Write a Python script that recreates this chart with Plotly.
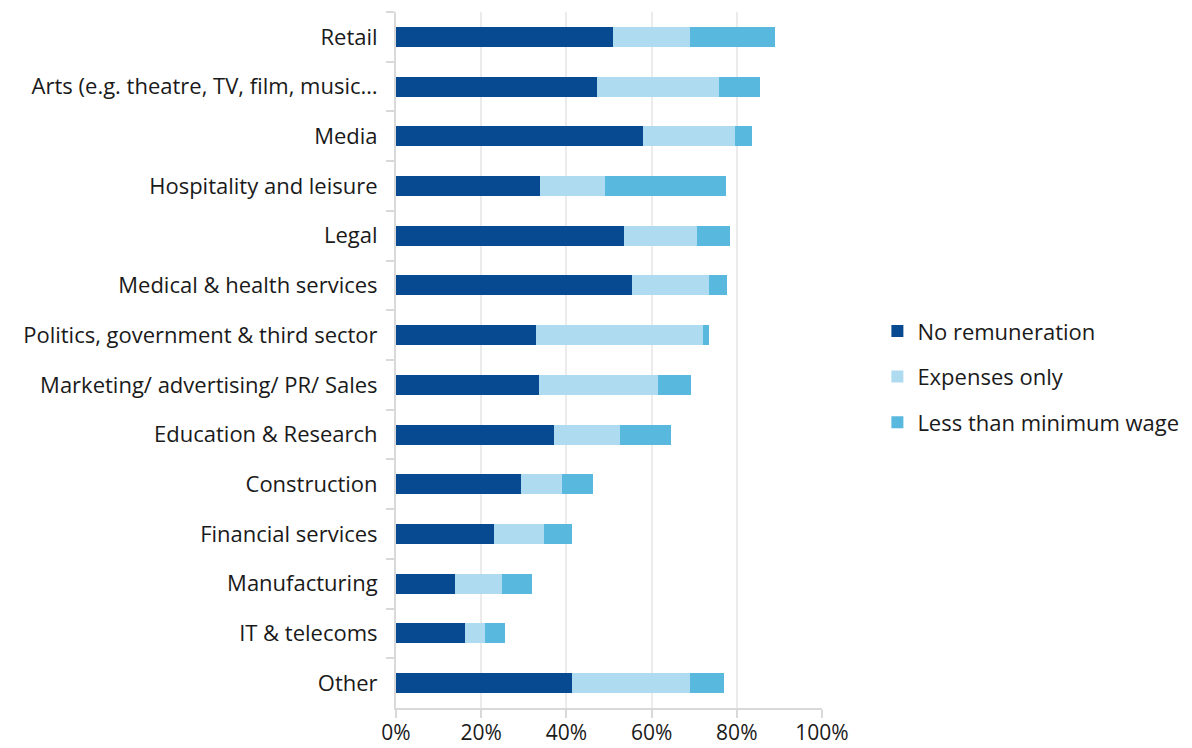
import plotly.graph_objects as go

categories = [
    "Retail",
    "Arts (e.g. theatre, TV, film, music…",
    "Media",
    "Hospitality and leisure",
    "Legal",
    "Medical & health services",
    "Politics, government & third sector",
    "Marketing/ advertising/ PR/ Sales",
    "Education & Research",
    "Construction",
    "Financial services",
    "Manufacturing",
    "IT & telecoms",
    "Other",
]

no_remuneration = [50.9, 47.2, 58.0, 33.8, 53.5, 55.4, 32.9, 33.6, 37.1, 29.3, 23.0, 13.8, 16.2, 41.3]
expenses_only = [18.1, 28.6, 21.6, 15.3, 17.2, 18.1, 39.2, 27.9, 15.5, 9.7, 11.7, 11.1, 4.7, 27.7]
less_than_min_wage = [20.0, 9.6, 4.0, 28.4, 7.7, 4.2, 1.4, 7.7, 12.0, 7.2, 6.6, 7.0, 4.7, 8.0]

series_names = ["No remuneration", "Expenses only", "Less than minimum wage"]
colors = ["#074A92", "#AFDBF0", "#58B8DE"]

fig = go.Figure()
for name, vals, col in zip(series_names, [no_remuneration, expenses_only, less_than_min_wage], colors):
    fig.add_trace(go.Bar(
        y=categories, x=[v / 100 for v in vals], name=name, orientation="h",
        marker=dict(color=col, line=dict(width=0)), width=0.4,
        legendgroup=name,
    ))

font_family = "'Open Sans', sans-serif"
fig.update_layout(
    barmode="stack",
    width=1192, height=748,
    margin=dict(l=396, r=370, t=12, b=40, autoexpand=False),
    paper_bgcolor="white", plot_bgcolor="white",
    font=dict(family=font_family, size=22, color="#1a1a1a"),
    showlegend=True,
    legend=dict(x=1.13, y=0.476, xanchor="left", yanchor="middle",
                font=dict(size=22), itemsizing="constant", tracegroupgap=14,
                traceorder="grouped", itemwidth=30,
                bgcolor="rgba(0,0,0,0)"),
    xaxis=dict(range=[0, 1], tickformat=".0%", dtick=0.2, tick0=0,
               showgrid=True, gridcolor="#EBEBEB", gridwidth=2,
               showline=True, linecolor="#D9D9D9", linewidth=2,
               ticks="outside", ticklen=8, tickcolor="#D9D9D9", tickwidth=2,
               tickfont=dict(size=21), ticklabelstandoff=-3,
               zeroline=False, fixedrange=True, automargin=False),
    yaxis=dict(autorange="reversed", type="category",
               showline=True, linecolor="#D9D9D9", linewidth=2,
               ticks="outside", ticklen=8, tickcolor="#D9D9D9", tickwidth=2,
               tickson="boundaries", showgrid=False, ticklabelstandoff=12,
               fixedrange=True, automargin=False),
)

fig.write_html("out.html", config={"displayModeBar": False},
               post_script="document.body.style.margin='0';document.body.style.overflow='hidden';")
